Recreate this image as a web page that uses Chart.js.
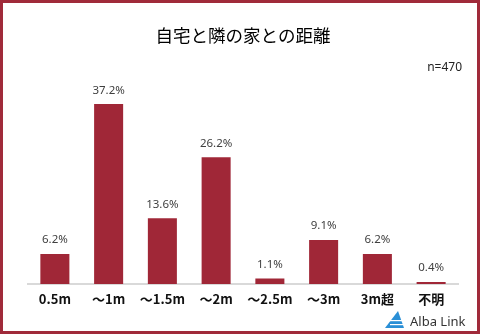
<!DOCTYPE html>
<html>
<head>
<meta charset="utf-8">
<script src="https://cdn.jsdelivr.net/npm/chart.js@4"></script>
<style>
  html, body { margin: 0; padding: 0; background: #fff; }
  #wrap { width: 480px; height: 334px; position: relative; }
</style>
</head>
<body>
<div id="wrap"><canvas id="chart" width="480" height="334"></canvas></div>
<script>
// Data
const categories = ['0.5m', '～1m', '～1.5m', '～2m', '～2.5m', '～3m', '3m超', '不明'];
const shares = [6.2, 37.2, 13.6, 26.2, 1.1, 9.1, 6.2, 0.4];
const chartTitle = '自宅と隣の家との距離';
const sampleNote = 'n=470';
const brand = 'Alba Link';

const barColor = '#a02737';

// Frame, value labels, sample size and logo
const extras = {
    id: 'extras',
    afterDatasetsDraw(chart) {
        const ctx = chart.ctx;
        const meta = chart.getDatasetMeta(0);
        ctx.save();
        ctx.font = '11.5px "Noto Sans", sans-serif';
        ctx.fillStyle = '#404040';
        ctx.textAlign = 'center';
        ctx.textBaseline = 'bottom';
        meta.data.forEach((bar, i) => {
            ctx.fillText(shares[i].toFixed(1) + '%', bar.x, bar.y - 8);
        });
        ctx.restore();
    },
    afterDraw(chart) {
        const ctx = chart.ctx;
        ctx.save();
        // outer frame
        ctx.strokeStyle = '#a02a3a';
        ctx.lineWidth = 3;
        ctx.strokeRect(1.5, 1.5, 477, 331);
        // sample size
        ctx.fillStyle = '#222';
        ctx.font = '12px "Noto Sans", sans-serif';
        ctx.textAlign = 'right';
        ctx.textBaseline = 'middle';
        ctx.fillText(sampleNote, 462, 68);
        // logo mark
        ctx.fillStyle = '#2a8fd6';
        ctx.beginPath();
        ctx.moveTo(398, 311);
        ctx.lineTo(404, 328);
        ctx.lineTo(385, 328);
        ctx.closePath();
        ctx.fill();
        ctx.fillStyle = '#ffffff';
        ctx.fillRect(388, 320, 14, 1.2);
        ctx.fillRect(390, 324, 13, 1.2);
        // brand text
        ctx.fillStyle = '#333333';
        ctx.font = '13px "Noto Sans", sans-serif';
        ctx.textAlign = 'left';
        ctx.fillText(brand, 410, 322);
        ctx.restore();
    }
};

const ctx = document.getElementById('chart').getContext('2d');
const chart = new Chart(ctx, {
    type: 'bar',
    data: {
        labels: categories,
        datasets: [{
            data: shares,
            backgroundColor: barColor,
            borderWidth: 0,
            categoryPercentage: 1,
            barPercentage: 0.54
        }]
    },
    options: {
        responsive: false,
        animation: false,
        devicePixelRatio: 1,
        layout: {
            padding: { left: 28, right: 22, top: 0, bottom: 20.5 }
        },
        scales: {
            x: {
                grid: { display: false, drawTicks: false },
                border: { display: true, color: '#d9d9d9', width: 2 },
                ticks: {
                    color: '#111',
                    padding: 7,
                    font: { family: '"Noto Sans CJK JP", sans-serif', size: 13, weight: 'bold' }
                }
            },
            y: {
                display: false,
                min: 0,
                max: 40
            }
        },
        plugins: {
            legend: { display: false },
            tooltip: { enabled: false },
            title: {
                display: true,
                text: chartTitle,
                color: '#000',
                font: { family: '"Noto Sans CJK JP", sans-serif', size: 17.5, weight: 'normal' },
                padding: { top: 24.5, bottom: 45 }
            }
        }
    },
    plugins: [extras]
});
</script>
</body>
</html>
